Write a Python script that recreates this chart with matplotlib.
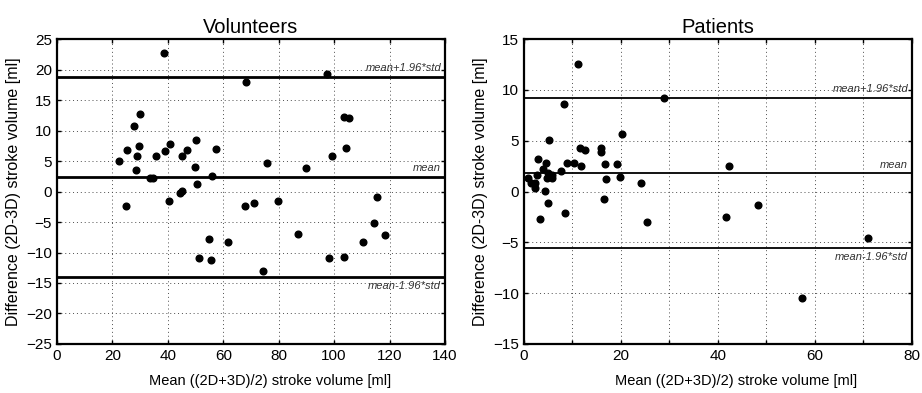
import numpy as np
import matplotlib.pyplot as plt

plt.rcParams['font.family'] = ['Liberation Sans', 'DejaVu Sans']

# Volunteers: mean stroke volume and difference (2D-3D)
vol_mean = [38.6, 68.2, 29.8, 27.7, 50.0, 40.8, 29.7, 25.4, 38.9, 46.9, 57.3, 28.7,
            35.6, 45.2, 22.5, 49.8, 28.6, 55.9, 33.6, 34.8, 50.5, 45.0, 44.5, 40.5,
            25.0, 68.0, 71.1, 55.0, 61.8, 51.1, 55.5, 97.6, 103.5, 105.3, 104.4,
            99.2, 75.7, 89.9, 79.9, 115.4, 87.1, 114.4, 118.5, 110.3, 98.2, 103.6, 74.5]
vol_diff = [22.7, 18.0, 12.7, 10.7, 8.5, 7.8, 7.4, 6.8, 6.7, 6.8, 6.9, 5.9,
            5.8, 5.8, 5.0, 4.1, 3.5, 2.5, 2.2, 2.2, 1.3, 0.1, -0.3, -1.6,
            -2.3, -2.3, -1.9, -7.8, -8.3, -10.9, -11.3, 19.3, 12.2, 12.0, 7.1,
            5.8, 4.6, 3.9, -1.6, -0.9, -6.9, -5.1, -7.1, -8.3, -10.9, -10.8, -13.1]
vol_lines = [18.8, 2.4, -14.0]

# Patients
pat_mean = [0.8, 1.5, 2.2, 2.3, 2.7, 2.9, 3.4, 4.0, 4.3, 4.5, 4.7, 4.9, 4.9, 5.2,
            5.8, 5.8, 7.7, 8.2, 8.5, 8.9, 10.3, 11.2, 11.5, 11.7, 12.6, 15.9, 15.9,
            16.4, 16.8, 16.9, 19.2, 19.9, 20.3, 24.1, 25.4, 28.9, 42.2, 41.6, 48.3,
            57.3, 71.0]
pat_diff = [1.35, 0.85, 0.85, 0.3, 1.6, 3.2, -2.7, 2.2, 0.06, 2.8, 1.3, 1.8, -1.1, 5.1,
            1.6, 1.3, 2.0, 8.6, -2.1, 2.8, 2.8, 12.5, 4.3, 2.5, 4.1, 4.3, 3.9,
            -0.7, 2.7, 1.2, 2.7, 1.4, 5.65, 0.85, -3.0, 9.2, 2.5, -2.5, -1.3,
            -10.5, -4.6]
pat_lines = [9.2, 1.8, -5.6]

line_labels = ['mean+1.96*std', 'mean', 'mean-1.96*std']

fig = plt.figure(figsize=(9.22, 3.93), dpi=100)
ax1 = fig.add_axes([0.0618, 0.1247, 0.4208, 0.776])
ax2 = fig.add_axes([0.5683, 0.1247, 0.4208, 0.776])


def style(ax, xlim, ylim, xt, yt, xlabels, lw_line, lines, xs, ys, title, xlab_pos):
    ax.set_xlim(xlim)
    ax.set_ylim(ylim)
    ax.set_xticks(xt)
    ax.set_xticklabels(xlabels)
    ax.set_yticks(yt)
    ax.grid(True, color='0.3', linestyle=(0, (1, 3)), linewidth=0.7)
    ax.tick_params(direction='in', top=True, right=True, length=3, labelsize=11, width=1)
    for s in ax.spines.values():
        s.set_linewidth(1.6)
    for val, lab in zip(lines, line_labels):
        ax.axhline(val, color='k', lw=lw_line, zorder=3)
        dx = (xlim[1] - xlim[0]) * 0.01
        dy = (ylim[1] - ylim[0]) * 0.012
        if lab == 'mean-1.96*std':
            ax.text(xlim[1] - dx, val - dy, lab, ha='right', va='top',
                    fontsize=8, style='italic', color='0.2')
        else:
            ax.text(xlim[1] - dx, val + dy, lab, ha='right', va='bottom',
                    fontsize=8, style='italic', color='0.2')
    ax.plot(xs, ys, 'o', color='k', markersize=4.8, zorder=4)
    ax.set_title(title, fontsize=14.5, pad=4)
    ax.set_xlabel('Mean ((2D+3D)/2) stroke volume [ml]', fontsize=10.5)
    ax.xaxis.set_label_coords(xlab_pos, -0.1)
    ax.set_ylabel('Difference (2D-3D) stroke volume [ml]', fontsize=11.5)


style(ax1, (0, 140), (-25, 25), np.arange(0, 141, 20), np.arange(-25, 26, 5),
      [str(v) for v in range(0, 141, 20)], 2.0, vol_lines, vol_mean, vol_diff,
      'Volunteers', 0.55)
style(ax2, (0, 80), (-15, 15), np.arange(0, 81, 10), np.arange(-15, 16, 5),
      [str(v) if v % 20 == 0 else '' for v in range(0, 81, 10)], 1.3, pat_lines,
      pat_mean, pat_diff, 'Patients', 0.546)

fig.savefig('out.png', dpi=100)
